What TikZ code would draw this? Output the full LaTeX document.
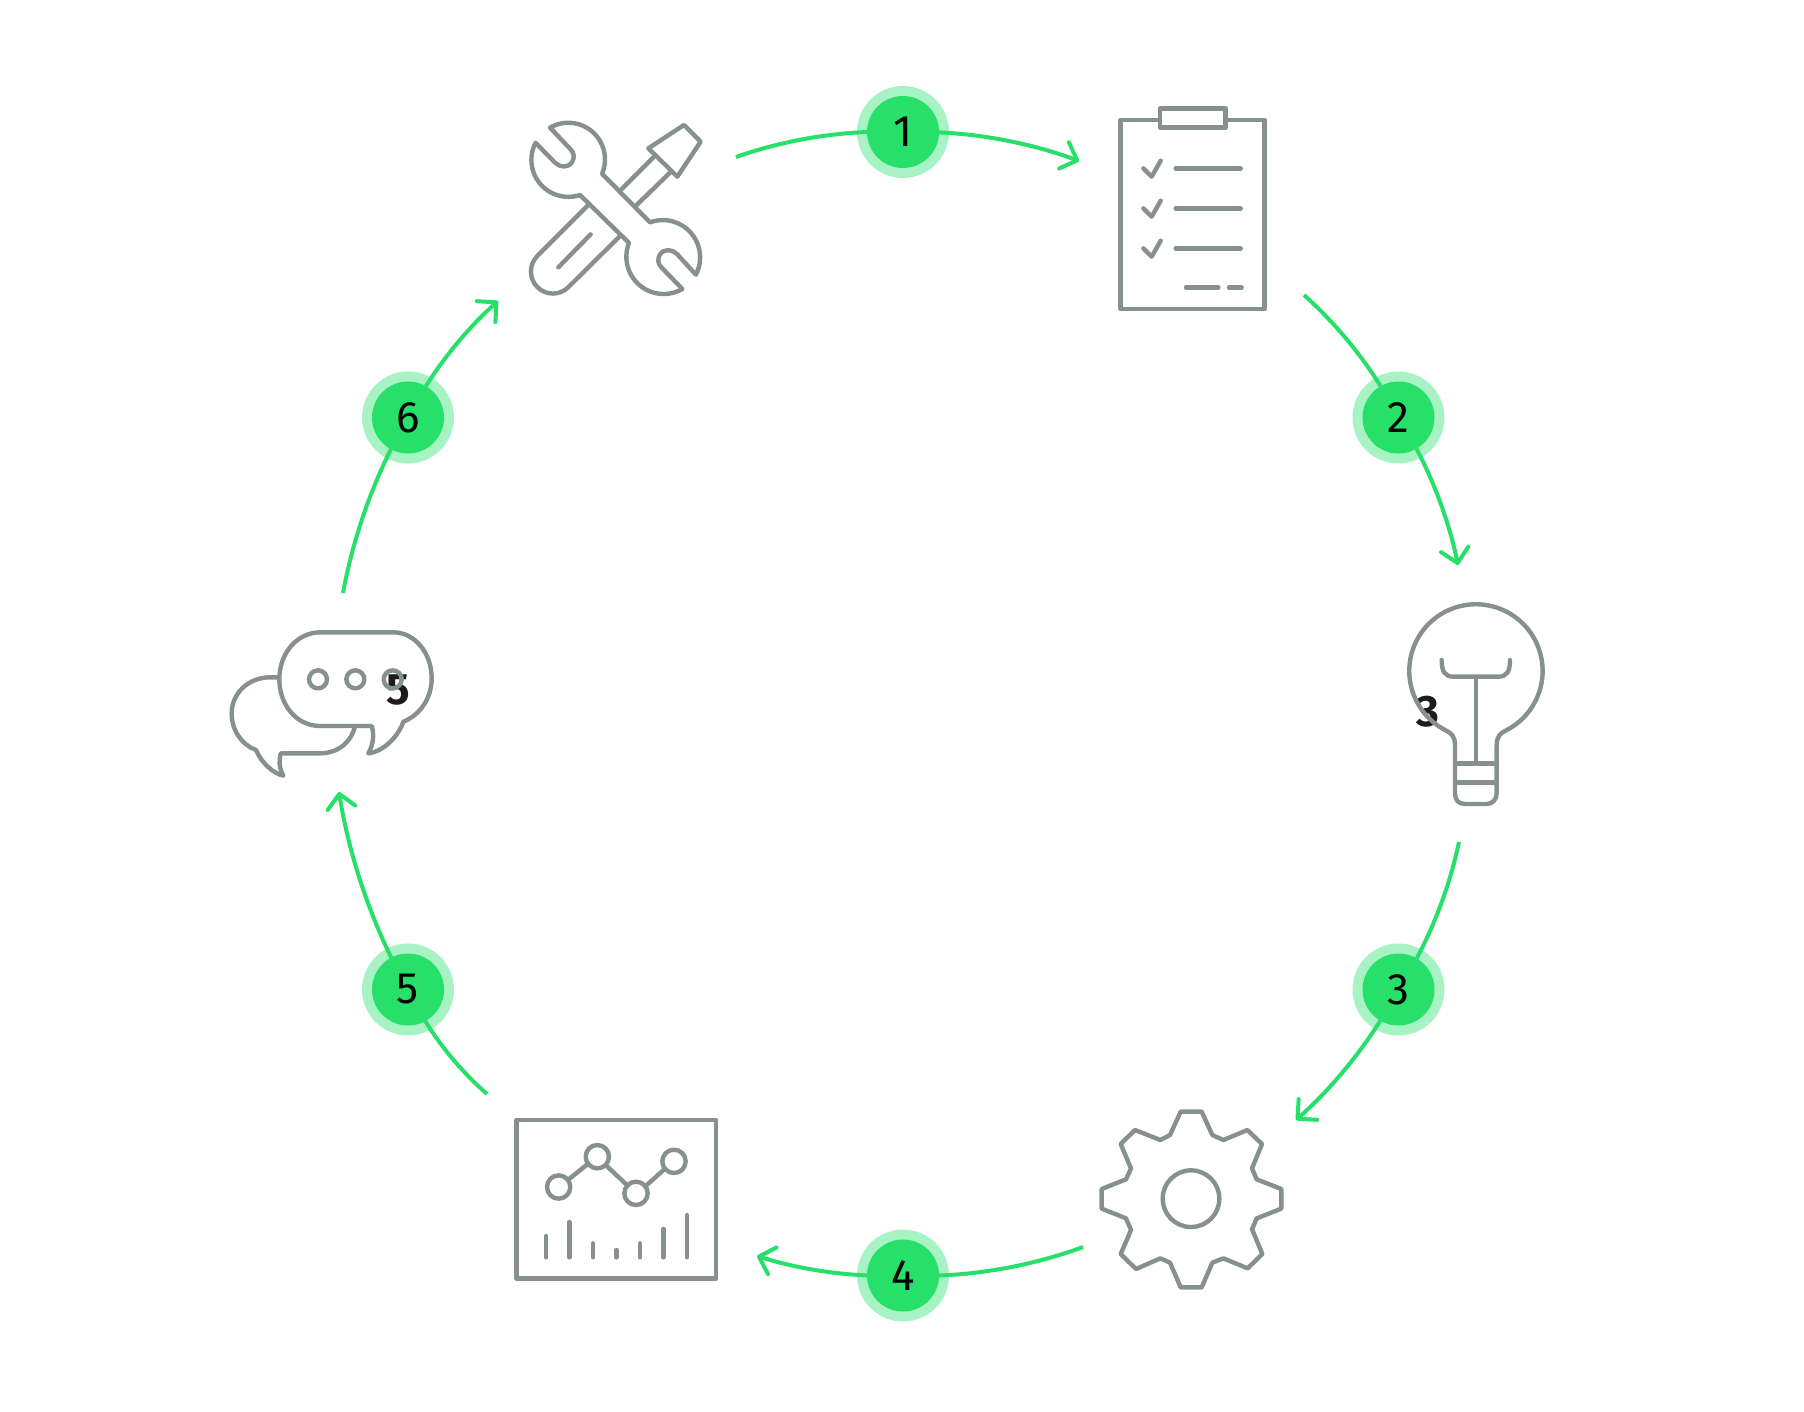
\documentclass[tikz,border=0pt]{standalone}
\usepackage{fontspec}
\setmainfont{Fira Sans}
\usetikzlibrary{arrows.meta}
\definecolor{flowgreen}{RGB}{38,224,105}
\definecolor{halogreen}{RGB}{168,243,196}
\definecolor{icongray}{RGB}{134,144,142}
\definecolor{inkdark}{RGB}{28,28,28}
\tikzset{
  halo/.style={circle,fill=halogreen,minimum size=92*0.5pt,inner sep=0pt,outer sep=0pt},
  badge/.style={circle,fill=flowgreen,minimum size=72*0.5pt,inner sep=0pt,outer sep=0pt,font=\fontsize{22}{22}\selectfont,text=black},
  flow/.style={draw=flowgreen,line width=2pt,looseness=0.85},
  flowhead/.style={flow,-{Straight Barb[length=7pt,width=14pt,line width=2pt,round]}},
  icon/.style={draw=icongray,line width=2.2pt,line join=round,line cap=round},
  stray/.style={font=\fontsize{22}{22}\selectfont\bfseries,text=inkdark,inner sep=0pt},
}
\begin{document}
\begin{tikzpicture}[x=0.5pt,y=-0.5pt]
\useasboundingbox (0,0) rectangle (1804,1412);
% stray labels below the icons
\node[stray] (labelchat) at (398,690) {5};
\node[stray] (labelbulb) at (1428,712) {3};
% badges
\foreach \n/\x/\y in {1/903/132,2/1398.5/417.5,3/1398.5/989.5,4/903/1275.5,5/408/989.5,6/408/417.5}{
  \node[halo] (halo\n) at (\x,\y) {};
}
\foreach \n/\x/\y in {1/903/132,2/1398.5/417.5,3/1398.5/989.5,4/903/1275.5,5/408/989.5,6/408/417.5}{
  \node[badge] (badge\n) at (\x,\y) {\n};
}
% connector free ends
\coordinate (tail1) at (736,157);  \coordinate (head1) at (1079,161);
\coordinate (tail2) at (1304,295); \coordinate (head2) at (1458,565);
\coordinate (tail3) at (1459,842); \coordinate (head3) at (1296,1120);
\coordinate (tail4) at (1083,1247);\coordinate (head4) at (757,1256);
\coordinate (tail5) at (487,1094); \coordinate (head5) at (339,792);
\coordinate (tail6) at (343,593);  \coordinate (head6) at (498,301);
% connectors
\draw[flow] (tail1) to[bend left=8.5] (badge1);
\draw[flowhead] (badge1) to[bend left=8.8] (head1);
\draw[flow] (tail2) to[bend left=8] (badge2);
\draw[flowhead] (badge2) to[bend left=8] (head2);
\draw[flow] (tail3) to[bend left=8] (badge3);
\draw[flowhead] (badge3) to[bend left=8] (head3);
\draw[flow] (tail4) to[bend left=9] (badge4);
\draw[flowhead] (badge4) to[bend left=7.5] (head4);
\draw[flow] (tail5) to[bend left=8.5] (badge5);
\draw[flowhead] (badge5) to[bend left=8.5] (head5);
\draw[flow] (tail6) to[bend left=8] (badge6);
\draw[flowhead] (badge6) to[bend left=8] (head6);
% tools
\begin{scope}[shift={(500,90)},x=0.16667pt,y=-0.16667pt]
\draw[icon] (265,345) -- (112,498) arc[start angle=225,end angle=45,radius=66] -- (358,440);
\draw[icon] (272,433) -- (175,532);
\draw[icon] (362,300) -- (465,197);
\draw[icon] (410,345) -- (515,243);
\draw[icon] (445,175) -- (552,105) -- (602,155) -- (532,260) -- cycle;
\draw[icon] (150,113) arc[start angle=-120,end angle=23,radius=110] -- (450,397)
  arc[start angle=-110,end angle=27.5,radius=112]
  -- (531,492) .. controls (516,477) and (491,475) .. (479,495) .. controls (472,507) and (474,522) .. (484,532)
  -- (547,597) arc[start angle=60,end angle=201.6,radius=112]
  -- (240,315) arc[start angle=71.7,end angle=207.5,radius=111]
  -- (165,218) .. controls (180,233) and (205,235) .. (217,215) .. controls (224,203) and (222,188) .. (212,178)
  -- cycle;
\end{scope}
% clipboard
\begin{scope}[shift={(1110,100)},x=0.16667pt,y=-0.16667pt]
\draw[icon] (150,60) -- (32,60) -- (32,627) -- (463,627) -- (463,60) -- (347,60);
\draw[icon] (150,25) rectangle (347,83);
\foreach \yy in {0,120,240}{
  \draw[icon] (100,205+\yy) -- (125,230+\yy) -- (152,182+\yy);
  \draw[icon] (197,205+\yy) -- (392,205+\yy);
}
\draw[icon] (228,563) -- (325,563);
\draw[icon] (357,563) -- (395,563);
\end{scope}
% bulb
\begin{scope}[shift={(1390,590)},x=0.16667pt,y=-0.16667pt]
\draw[icon] (167,421) arc[start angle=117,end angle=423,radius=200]
  .. controls (330,430) and (320,440) .. (320,465) -- (320,610)
  .. controls (320,630) and (305,642) .. (290,642) -- (225,642)
  .. controls (205,642) and (195,630) .. (195,610) -- (195,465)
  .. controls (195,440) and (185,430) .. (167,421) -- cycle;
\draw[icon] (195,520) -- (320,520);
\draw[icon] (195,578) -- (320,578);
\draw[icon] (258,262) -- (258,520);
\draw[icon] (155,210) .. controls (155,245) and (165,260) .. (190,260) -- (325,260) .. controls (350,260) and (360,245) .. (360,210);
\end{scope}
% gear
\begin{scope}[shift={(1090,1090)},x=0.16667pt,y=-0.16667pt]
\draw[icon] (272,65) -- (335,65) -- (367,135) -- (400,150) -- (472,120) -- (516,162) -- (486,235) -- (500,268) -- (574,297) -- (574,356) -- (500,385) -- (486,418) -- (517,492) -- (473,535) -- (400,505) -- (367,518) -- (335,592) -- (272,592) -- (240,518) -- (211,505) -- (138,537) -- (92,492) -- (123,420) -- (108,385) -- (35,356) -- (35,297) -- (108,268) -- (123,235) -- (92,162) -- (135,120) -- (211,150) -- (240,135) -- cycle;
\draw[icon] (303,326) circle[radius=85];
\end{scope}
% chart
\begin{scope}[shift={(510,1110)},x=0.16667pt,y=-0.16667pt]
\draw[icon] (20,30) rectangle (618,506);
\foreach \cx/\cy in {146/231,262/140,378/250,492/154}{
  \draw[icon] (\cx,\cy) circle[radius=35];
}
\draw[icon] (176,208) -- (232,163);
\draw[icon] (288,166) -- (352,226);
\draw[icon] (408,227) -- (464,177);
\foreach \bx/\bt in {108/378,178/336,249/400,319/420,390/400,460/357,531/315}{
  \draw[icon] (\bx,\bt) -- (\bx,442);
}
\end{scope}
% chat
\begin{scope}[shift={(220,620)},x=0.16667pt,y=-0.16667pt]
\draw[icon] (300,318) .. controls (230,318) and (178,255) .. (178,178) .. controls (178,95) and (235,37) .. (300,37) -- (520,37) .. controls (585,37) and (635,100) .. (635,175) .. controls (635,235) and (600,285) .. (550,305) .. controls (535,350) and (490,395) .. (445,400) .. controls (462,370) and (462,340) .. (455,318) -- cycle;
\draw[icon] (175,172) -- (150,172) .. controls (85,172) and (35,220) .. (35,280) .. controls (35,330) and (65,375) .. (108,390) .. controls (125,430) and (160,460) .. (190,467) .. controls (175,440) and (178,420) .. (182,400) -- (300,400) .. controls (355,400) and (395,365) .. (405,318);
\foreach \dx in {294,406,518}{
  \draw[icon] (\dx,178) circle[radius=27];
}
\end{scope}
\end{tikzpicture}
\end{document}
